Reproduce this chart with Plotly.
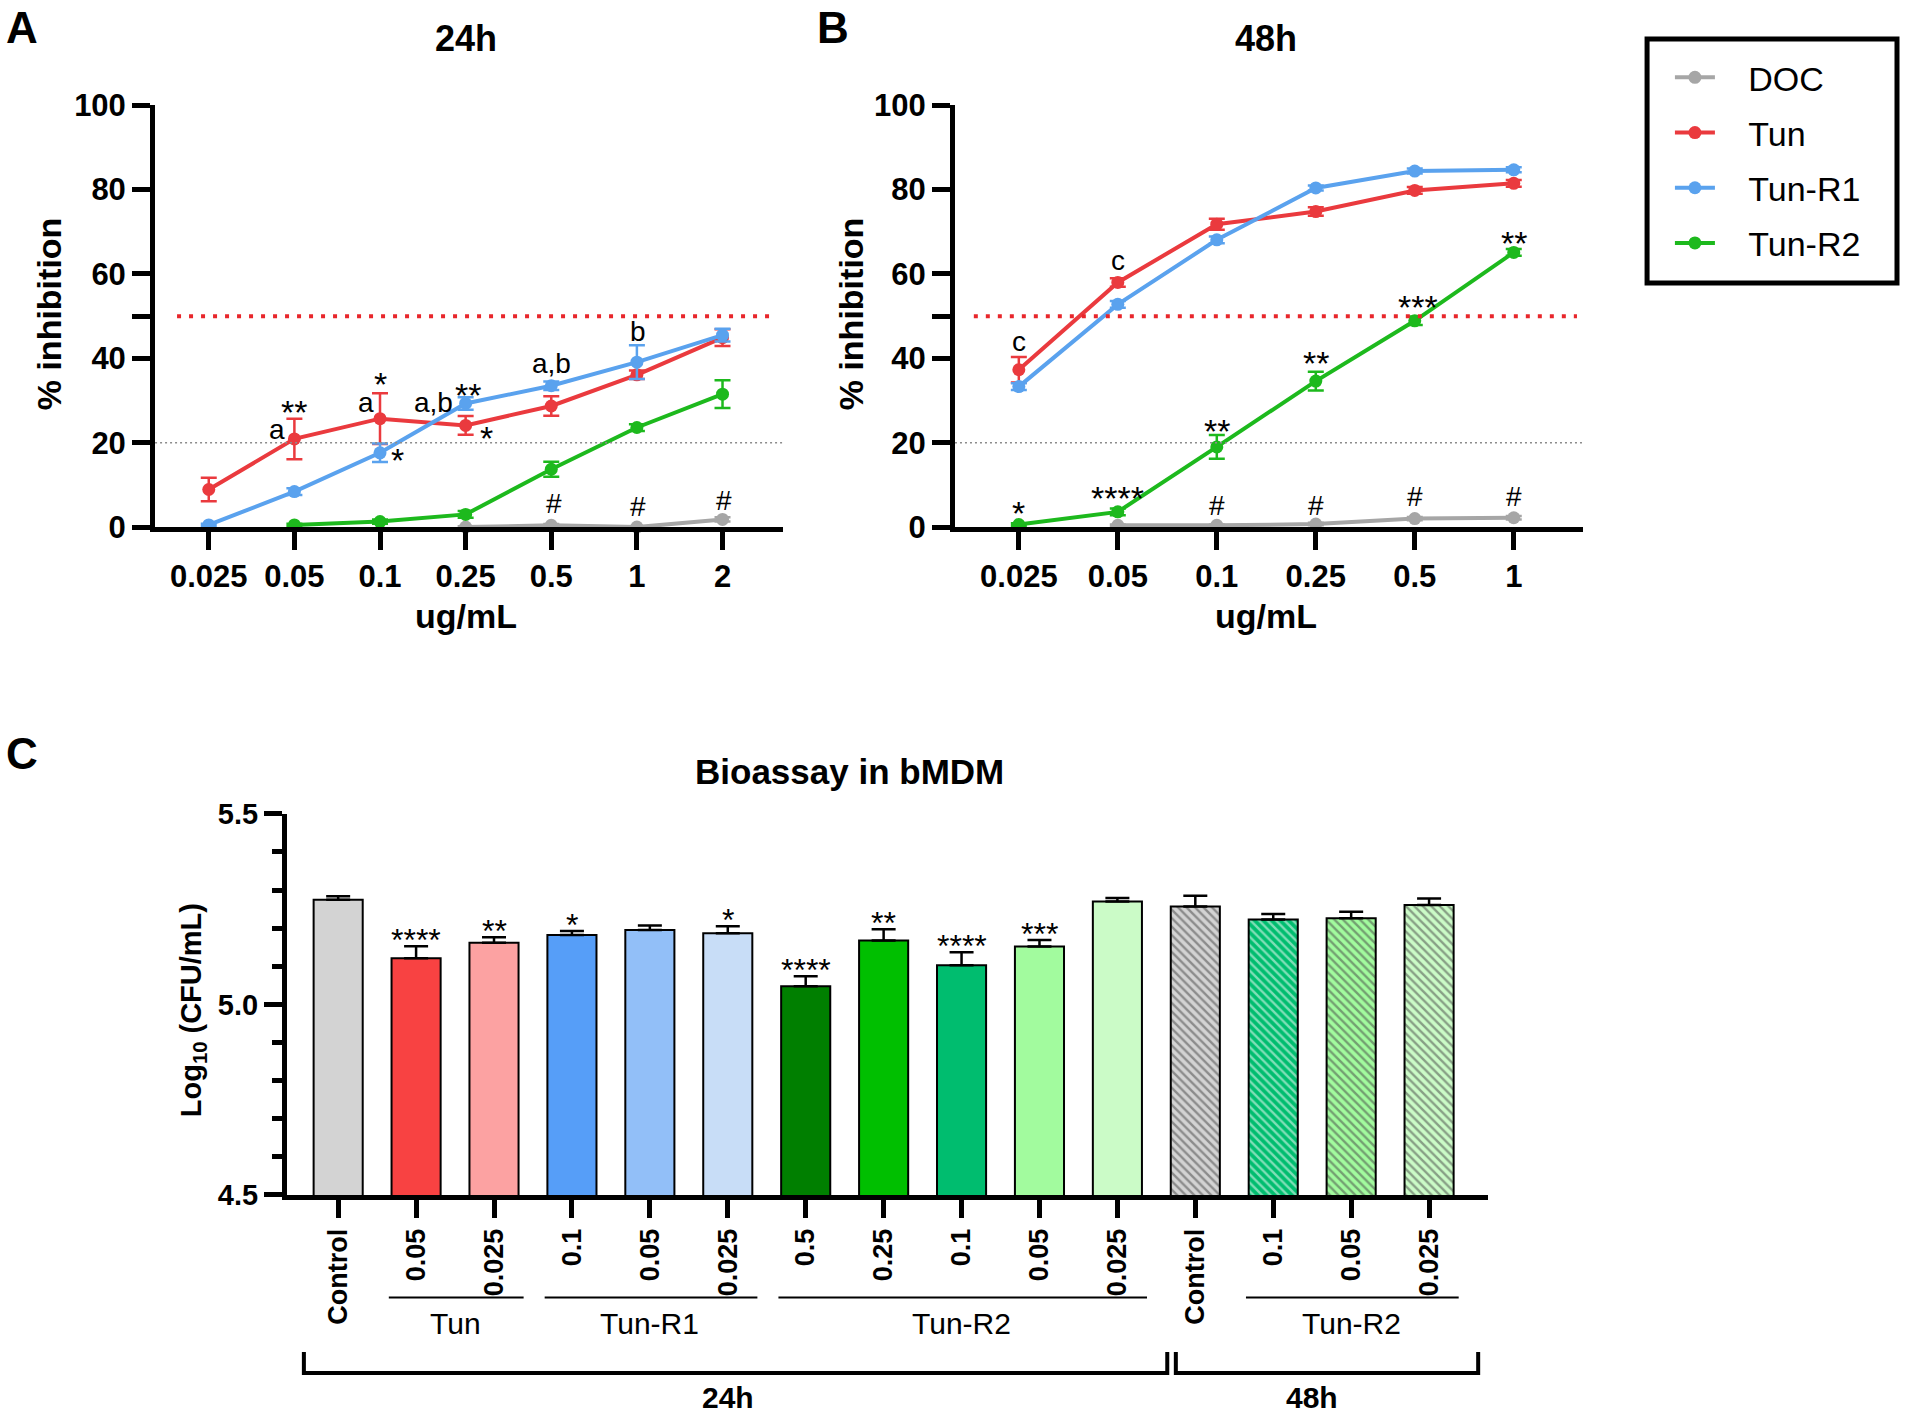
import plotly.graph_objects as go

FONT = "Arial, Liberation Sans, sans-serif"

# ---- data: panels A / B (% inhibition) ----
doses_24 = ["0.025", "0.05", "0.1", "0.25", "0.5", "1", "2"]
doses_48 = ["0.025", "0.05", "0.1", "0.25", "0.5", "1"]

doc_24_x = ["0.25", "0.5", "1", "2"]
doc_24 = [0.0, 0.4, 0.0, 1.8]
doc_24_err = [0.2, 0.3, 0.2, 0.5]
tun_24 = [8.9, 20.9, 25.7, 24.1, 28.7, 36.1, 44.9]
tun_24_err = [2.8, 4.8, 6.0, 2.2, 2.3, 1.0, 2.0]
r1_24 = [0.5, 8.4, 17.6, 29.3, 33.5, 39.1, 45.5]
r1_24_err = [0.3, 0.8, 2.2, 1.5, 1.0, 4.0, 1.5]
r2_24_x = ["0.05", "0.1", "0.25", "0.5", "1", "2"]
r2_24 = [0.5, 1.3, 3.0, 13.7, 23.6, 31.5]
r2_24_err = [0.3, 0.5, 0.8, 1.8, 0.8, 3.3]

doc_48_x = ["0.05", "0.1", "0.25", "0.5", "1"]
doc_48 = [0.4, 0.4, 0.7, 2.0, 2.2]
doc_48_err = [0.2, 0.2, 0.3, 0.4, 0.4]
tun_48 = [37.3, 58.0, 71.8, 74.8, 79.8, 81.5]
tun_48_err = [3.0, 1.0, 1.3, 1.0, 0.8, 0.8]
r1_48 = [33.3, 52.8, 68.1, 80.4, 84.4, 84.7]
r1_48_err = [0.8, 0.8, 0.8, 0.6, 0.6, 0.6]
r2_48 = [0.6, 3.6, 19.0, 34.6, 48.9, 65.1]
r2_48_err = [0.3, 0.8, 2.8, 2.2, 1.0, 0.8]

# significance labels: (text, x position in category units, y)
notes_24 = [("a", 0.8, 22.6), ("**", 1.0, 28.0), ("a", 1.84, 29.0), ("*", 2.0, 34.6),
            ("*", 2.2, 16.6), ("a,b", 2.63, 29.0), ("**", 3.03, 32.0), ("*", 3.24, 21.9),
            ("a,b", 4.0, 38.2), ("b", 5.01, 45.9),
            ("#", 4.03, 5.2), ("#", 5.01, 4.3), ("#", 6.02, 5.9)]
notes_48 = [("c", 0.0, 43.5), ("c", 1.0, 62.7), ("*", 0.0, 4.0), ("****", 1.0, 7.6),
            ("#", 2.0, 4.7), ("#", 3.0, 4.7), ("#", 4.0, 6.7), ("#", 5.0, 6.7),
            ("**", 2.0, 23.6), ("**", 3.0, 39.5), ("***", 4.03, 53.0), ("**", 5.0, 68.1)]

# ---- data: panel C (bioassay) ----
bar_labels = ["Control", "0.05", "0.025", "0.1", "0.05", "0.025", "0.5", "0.25",
              "0.1", "0.05", "0.025", "Control", "0.1", "0.05", "0.025"]
cfu_mean = [5.275, 5.121, 5.162, 5.182, 5.195, 5.187, 5.048, 5.168,
            5.103, 5.152, 5.270, 5.257, 5.223, 5.226, 5.261]
cfu_err = [0.009, 0.032, 0.014, 0.011, 0.012, 0.018, 0.026, 0.029,
           0.034, 0.017, 0.009, 0.028, 0.014, 0.017, 0.017]
cfu_sig = ["", "****", "**", "*", "", "*", "****", "**", "****", "***", "", "", "", "", ""]
drug_groups = ["Tun", "Tun-R1", "Tun-R2", "Tun-R2"]
drug_members = [[1, 2], [3, 4, 5], [6, 7, 8, 9, 10], [12, 13, 14]]
time_groups = ["24h", "48h"]
time_members = [list(range(0, 11)), list(range(11, 15))]

# ---- styles ----
line_colors = {"DOC": "#A6A6A6", "Tun": "#EA3A3E", "Tun-R1": "#5AA2EE", "Tun-R2": "#1DB91D"}
bar_colors = ["#D3D3D3", "#F84242", "#FCA2A2", "#569EF8", "#92BFF8", "#C8DDF7",
              "#007F00", "#00BF00", "#00BD6F", "#A2FB9E", "#CBFBC7",
              "#D3D3D3", "#00BD6F", "#A2FB9E", "#CBFBC7"]
bar_hatch = [""] * 11 + ["\\"] * 4

fig = go.Figure()

panels = [
    ("x", "y", [("DOC", doc_24_x, doc_24, doc_24_err), ("Tun", doses_24, tun_24, tun_24_err),
                ("Tun-R1", doses_24, r1_24, r1_24_err), ("Tun-R2", r2_24_x, r2_24, r2_24_err)], True),
    ("x2", "y2", [("DOC", doc_48_x, doc_48, doc_48_err), ("Tun", doses_48, tun_48, tun_48_err),
                  ("Tun-R1", doses_48, r1_48, r1_48_err), ("Tun-R2", doses_48, r2_48, r2_48_err)], False),
]
for xa, ya, series, show in panels:
    for name, xs, ys, es in series:
        c = line_colors[name]
        fig.add_trace(go.Scatter(
            x=xs, y=ys, mode="lines+markers", name="\u00a0\u00a0\u00a0" + name, legendgroup=name,
            showlegend=show, xaxis=xa, yaxis=ya, cliponaxis=False,
            line=dict(color=c, width=4), marker=dict(color=c, size=13),
            error_y=dict(type="data", array=es, color=c, thickness=2.5, width=8)))

fig.add_trace(go.Bar(
    x=list(range(len(cfu_mean))), y=cfu_mean, xaxis="x3", yaxis="y3", showlegend=False,
    width=0.63,
    marker=dict(color=bar_colors, line=dict(color="black", width=2),
                pattern=dict(shape=bar_hatch, fgcolor="black", bgcolor=bar_colors,
                             size=6, solidity=0.4, fillmode="overlay")),
    error_y=dict(type="data", array=cfu_err, arrayminus=[0] * len(cfu_err), symmetric=False,
                 color="black", thickness=2.5, width=12)))

axis_common = dict(showline=True, linewidth=5, linecolor="black", ticks="outside",
                   ticklen=18, tickwidth=5, tickcolor="black", showgrid=False, zeroline=False,
                   automargin=False)
pct_ticks = dict(tickvals=[0, 20, 40, 50, 60, 80, 100],
                 ticktext=["0", "20", "40", " ", "60", "80", "100"])

fig.update_layout(
    width=1905, height=1413, margin=dict(l=0, r=0, t=0, b=0, pad=0),
    plot_bgcolor="white", paper_bgcolor="white",
    font=dict(family=FONT, color="black"),
    xaxis=dict(domain=[0.0814, 0.4111], anchor="y", type="category", categoryorder="array",
               categoryarray=doses_24, range=[-0.627, 6.708],
               tickfont=dict(size=31, weight="bold"), **axis_common),
    yaxis=dict(domain=[0.627, 0.9255], anchor="x", range=[0, 100], **pct_ticks,
               tickfont=dict(size=31, weight="bold"), **axis_common),
    xaxis2=dict(domain=[0.5013, 0.8311], anchor="y2", type="category", categoryorder="array",
                categoryarray=doses_48, range=[-0.645, 5.702],
                tickfont=dict(size=31, weight="bold"), **axis_common),
    yaxis2=dict(domain=[0.627, 0.9255], anchor="x2", range=[0, 100], **pct_ticks,
                tickfont=dict(size=31, weight="bold"), **axis_common),
    xaxis3=dict(domain=[0.1506, 0.7811], anchor="y3", range=[-0.658, 14.756],
                tickvals=list(range(len(bar_labels))), ticktext=bar_labels, tickangle=-90,
                tickfont=dict(size=27, weight="bold"), **axis_common),
    yaxis3=dict(domain=[0.1543, 0.424], anchor="x3", range=[4.5, 5.5], dtick=0.5, tickformat=".1f",
                tickfont=dict(size=29, weight="bold"),
                minor=dict(dtick=0.1, ticks="outside", ticklen=10, tickwidth=5, tickcolor="black"),
                **axis_common),
    legend=dict(x=0.8766, y=0.9655, xanchor="left", yanchor="top", bgcolor="rgba(0,0,0,0)",
                borderwidth=0, font=dict(size=34), tracegroupgap=8, itemwidth=40),
)

shapes = []
# threshold lines on the inhibition panels
for xr, yr, x_start in [("x domain", "y", 0.035), ("x2 domain", "y2", 0.03)]:
    shapes.append(dict(type="line", xref=xr, yref=yr, x0=x_start, x1=0.99, y0=50, y1=50,
                       line=dict(color="#E8262B", width=4, dash="4px,8px")))
    shapes.append(dict(type="line", xref=xr, yref=yr, x0=0.0, x1=1.0, y0=20, y1=20,
                       line=dict(color="#8C8C8C", width=1.5, dash="2px,3px")))
# legend frame
shapes.append(dict(type="rect", xref="paper", yref="paper", x0=0.8646, x1=0.9958,
                   y0=0.7997, y1=0.9724, line=dict(color="black", width=5)))

annotations = []
# group underlines and brackets for panel C
for name, members in zip(drug_groups, drug_members):
    x0, x1 = members[0] - 0.35, members[-1] + 0.38
    shapes.append(dict(type="line", xref="x3", yref="paper", x0=x0, x1=x1, y0=0.0817, y1=0.0817,
                       line=dict(color="black", width=2)))
    annotations.append(dict(text=name, xref="x3", yref="paper", x=(members[0] + members[-1]) / 2,
                            y=0.063, xanchor="center", yanchor="middle", showarrow=False,
                            font=dict(size=30)))
for name, members, (x0, x1) in zip(time_groups, time_members, [(-0.44, 10.64), (10.75, 14.63)]):
    shapes.append(dict(type="path", xref="x3", yref="paper",
                       path=f"M{x0},0.0432 L{x0},0.0283 L{x1},0.0283 L{x1},0.0432",
                       line=dict(color="black", width=4)))
    annotations.append(dict(text=name, xref="x3", yref="paper", x=(members[0] + members[-1]) / 2,
                            y=0.0113, xanchor="center", yanchor="middle", showarrow=False,
                            font=dict(size=30, weight="bold")))

# significance marks
for xr, yr, notes in [("x", "y", notes_24), ("x2", "y2", notes_48)]:
    for text, nx, ny in notes:
        star = text.startswith("*")
        annotations.append(dict(text=text, xref=xr, yref=yr, x=nx, y=ny, showarrow=False,
                                xanchor="center", yanchor="middle",
                                yshift=-3 if star else 2,
                                font=dict(size=34 if star else 28)))
for i, s in enumerate(cfu_sig):
    if s:
        annotations.append(dict(text=s, xref="x3", yref="y3", x=i, y=cfu_mean[i] + cfu_err[i],
                                xanchor="center", yanchor="bottom", yshift=-14, showarrow=False,
                                font=dict(size=32)))

# panel letters, titles, axis titles
bold = lambda s: dict(size=s, weight="bold")
texts = [
    ("A", 0.0116, 0.999, bold(44), 0, "top"), ("B", 0.4373, 0.999, bold(44), 0, "top"),
    ("C", 0.0116, 0.467, bold(44), 0, "middle"),
    ("24h", 0.2447, 0.9724, bold(36), 0, "middle"), ("48h", 0.6646, 0.9724, bold(36), 0, "middle"),
    ("ug/mL", 0.2447, 0.564, bold(34), 0, "middle"), ("ug/mL", 0.6646, 0.564, bold(34), 0, "middle"),
    ("% inhibition", 0.0255, 0.778, bold(34), -90, "middle"),
    ("% inhibition", 0.4465, 0.778, bold(34), -90, "middle"),
    ("Bioassay in bMDM", 0.446, 0.454, bold(35), 0, "middle"),
    ("Log<sub>10</sub> (CFU/mL)", 0.1013, 0.285, bold(29), -90, "middle"),
]
for text, tx, ty, f, ang, ya in texts:
    annotations.append(dict(text=text, xref="paper", yref="paper", x=tx, y=ty, showarrow=False,
                            xanchor="center", yanchor=ya, textangle=ang, font=f))

fig.update_layout(shapes=shapes, annotations=annotations)
fig.write_html("out.html", config={"displayModeBar": False},
               post_script="document.body.style.margin='0';")
